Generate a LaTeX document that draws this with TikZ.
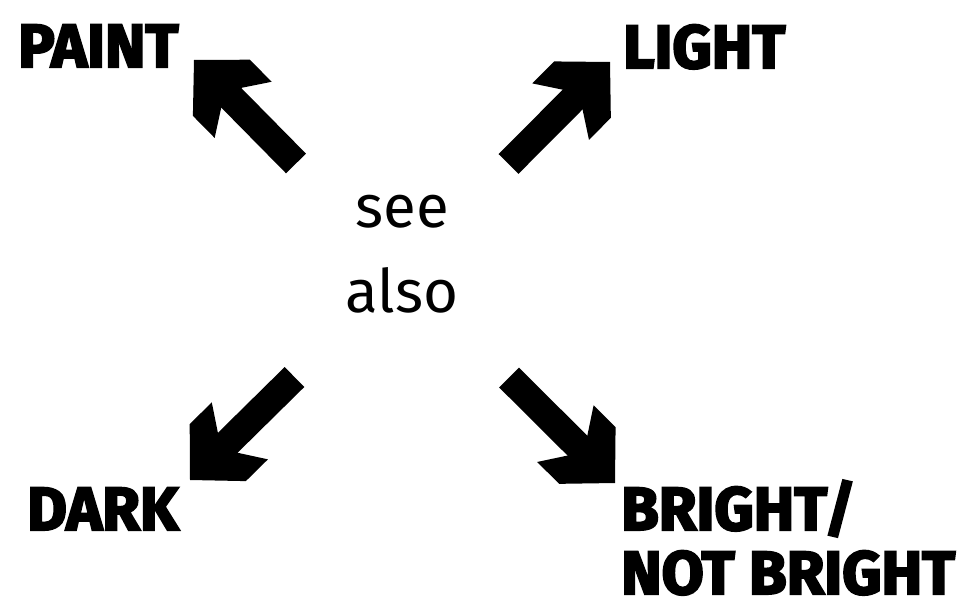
\documentclass[tikz,border=0pt]{standalone}
\usepackage{fontspec}
\setmainfont{Fira Sans}[BoldFeatures={FakeBold=3.5}]
\usetikzlibrary{arrows.meta, positioning}

% fat chevron head, tip at the origin
\pgfdeclarearrow{
  name = Chevron,
  setup code = {
    \pgfarrowssettipend{0pt}
    \pgfarrowssetlineend{-50pt}
    \pgfarrowssetbackend{-70pt}
  },
  drawing code = {
    \pgfpathmoveto{\pgfpointorigin}
    \pgfpathlineto{\pgfpoint{-39pt}{40pt}}
    \pgfpathlineto{\pgfpoint{-70pt}{40pt}}
    \pgfpathlineto{\pgfpoint{-53pt}{14pt}}
    \pgfpathlineto{\pgfpoint{-53pt}{-14pt}}
    \pgfpathlineto{\pgfpoint{-70pt}{-40pt}}
    \pgfpathlineto{\pgfpoint{-39pt}{-40pt}}
    \pgfpathclose
    \pgfusepathqfill
  }
}

\tikzset{
  every picture/.style={x=1pt, y=-1pt},
  word/.style={font=\bfseries\fontsize{61}{64}\selectfont, inner sep=0pt, align=left},
  hub/.style={font=\fontsize{60}{85}\selectfont, inner sep=0pt, align=center, text depth=34pt},
  fat/.style={-Chevron, line width=28pt, draw=black},
}

\begin{document}
\begin{tikzpicture}
  \useasboundingbox (0,0) rectangle (968,602);
  \node[hub] (see) at (402,271) {see\\also};
  \node[word, anchor=base west] (paint) at (18,67) {PAINT};
  \node[word, anchor=base west] (light) at (623,68) {LIGHT};
  \node[word, anchor=base west] (dark) at (27,530) {DARK};
  \node[word, anchor=base west] (bright) at (621,594) {BRIGHT/\\NOT BRIGHT};
  % corners of the heads, next to the words
  \coordinate (tp) at (194,60);
  \coordinate (tl) at (610,62);
  \coordinate (td) at (190,480);
  \coordinate (tb) at (615,483);
  \foreach \t in {tp,tl,td,tb}
    \draw[fat, shorten <=151pt] (see.center) -- (\t);
\end{tikzpicture}
\end{document}
